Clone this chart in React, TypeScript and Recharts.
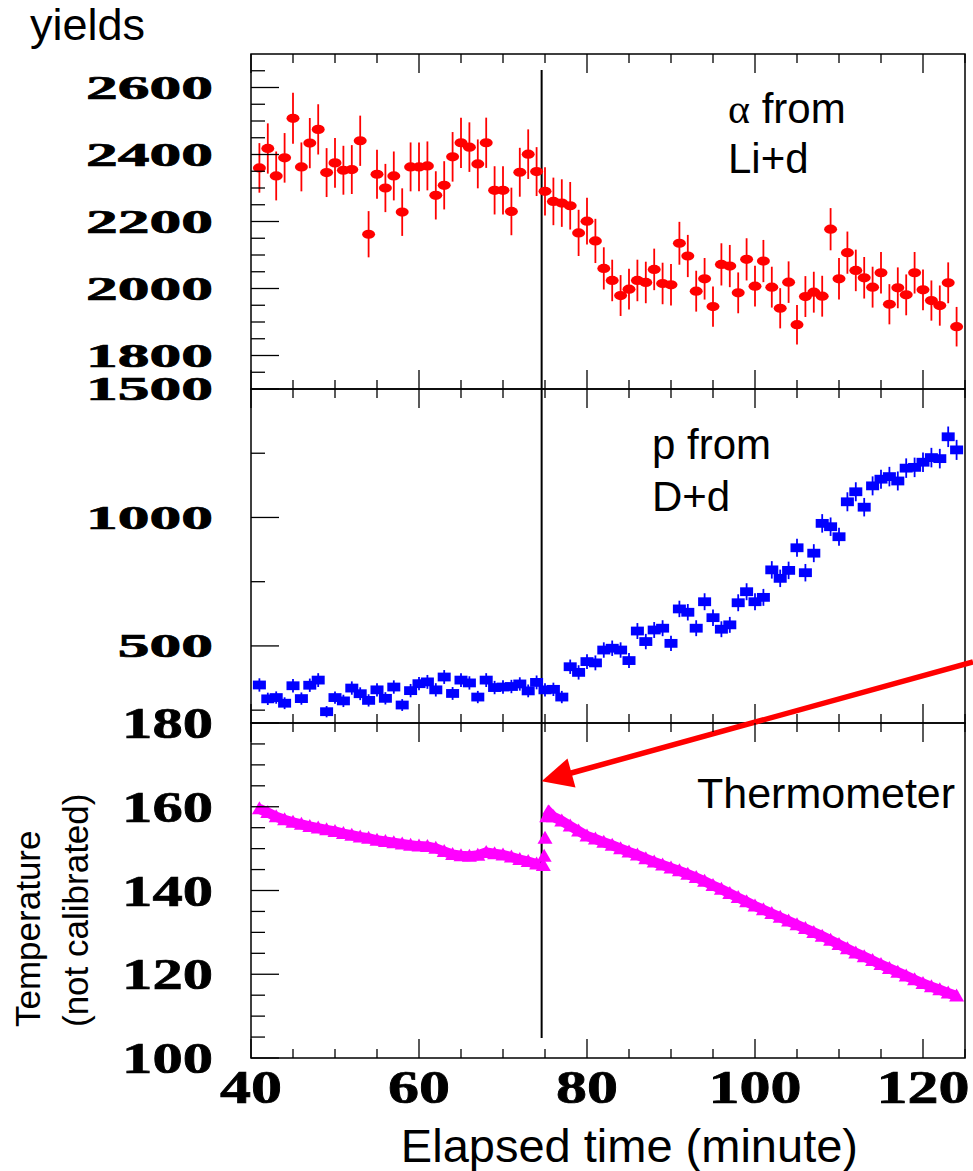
import React from "react";
import {
  ComposedChart,
  Scatter,
  Line,
  XAxis,
  YAxis,
  ErrorBar,
  ReferenceLine,
  ReferenceArea,
} from "recharts";

// ---------- data ----------
// elapsed time grid (minutes) for the yield measurements
const MINUTES = [
  41, 42, 43, 44, 45, 46, 47, 48, 49, 50,
  51, 52, 53, 54, 55, 56, 57, 58, 59, 60,
  61, 62, 63, 64, 65, 66, 67, 68, 69, 70,
  71, 72, 73, 74, 75, 76, 77, 78, 79, 80,
  81, 82, 83, 84, 85, 86, 87, 88, 89, 90,
  91, 92, 93, 94, 95, 96, 97, 98, 99, 100,
  101, 102, 103, 104, 105, 106, 107, 108, 109, 110,
  111, 112, 113, 114, 115, 116, 117, 118, 119, 120,
  121, 122, 123, 124,
];

// alpha yield from Li+d
const ALPHA_YIELD = [
  2360, 2418, 2336, 2390, 2508, 2363, 2434, 2475, 2346, 2375,
  2353, 2355, 2441, 2162, 2341, 2300, 2336, 2228, 2363, 2363,
  2366, 2278, 2308, 2393, 2435, 2422, 2372, 2435, 2293, 2293,
  2230, 2347, 2401, 2349, 2290, 2260, 2255, 2247, 2166, 2201,
  2142, 2060, 2024, 1979, 1998, 2024, 2018, 2057, 2015, 2011,
  2135, 2097, 1992, 2029, 1946, 2072, 2067, 1987, 2087, 2007,
  2082, 2004, 1941, 2019, 1892, 1976, 1989, 1977, 2177, 2029,
  2107, 2054, 2032, 2004, 2047, 1953, 2002, 1981, 2047, 1996,
  1964, 1949, 2017, 1886,
];
const ALPHA_ERR = [
  74, 75, 73, 74, 76, 73, 75, 75, 73, 74,
  73, 73, 75, 69, 73, 72, 73, 71, 73, 73,
  73, 72, 72, 74, 75, 74, 73, 75, 72, 72,
  71, 73, 74, 73, 72, 71, 71, 71, 69, 70,
  66, 63, 62, 61, 61, 62, 62, 62, 62, 62,
  64, 63, 61, 62, 60, 63, 63, 61, 63, 61,
  63, 61, 60, 62, 59, 61, 61, 61, 63, 62,
  63, 62, 62, 61, 62, 60, 61, 61, 62, 61,
  60, 60, 61, 59,
];

// proton yield from D+d
const PROTON_YIELD = [
  348, 294, 299, 277, 345, 295, 347, 367, 244, 299,
  286, 336, 314, 288, 329, 296, 340, 270, 326, 353,
  360, 329, 379, 315, 367, 356, 301, 367, 338, 340,
  342, 352, 325, 358, 329, 331, 301, 419, 397, 439,
  434, 484, 491, 484, 443, 558, 517, 562, 569, 510,
  644, 631, 569, 672, 610, 565, 582, 668, 711, 672,
  689, 796, 763, 794, 882, 785, 861, 977, 964, 925,
  1061, 1100, 1040, 1123, 1149, 1159, 1142, 1192, 1195, 1215,
  1233, 1229, 1314, 1263,
];
const PROTON_ERR = [
  26, 24, 24, 23, 26, 24, 26, 27, 22, 24,
  24, 26, 25, 24, 26, 24, 26, 23, 26, 26,
  27, 26, 27, 25, 27, 26, 24, 27, 26, 26,
  26, 26, 25, 27, 26, 26, 24, 28, 28, 29,
  29, 30, 30, 30, 29, 31, 30, 31, 31, 30,
  32, 32, 31, 33, 32, 31, 31, 33, 33, 33,
  33, 34, 34, 34, 35, 34, 35, 36, 36, 35,
  37, 37, 36, 37, 37, 38, 37, 38, 38, 38,
  38, 38, 40, 39,
];

// thermometer reading: before the step, the step itself, and after
const TEMP_TIMES_BEFORE = [
  41, 42, 43, 44, 45, 46, 47, 48, 49, 50,
  51, 52, 53, 54, 55, 56, 57, 58, 59, 60,
  61, 62, 63, 64, 65, 66, 67, 68, 69, 70,
  71, 72, 73, 74, 74.8,
];
const TEMP_BEFORE = [
  159.5, 158.6, 157.6, 156.9, 156.3, 155.8, 155.3, 154.9, 154.5, 154.1,
  153.6, 153.2, 152.8, 152.5, 152.0, 151.7, 151.4, 151.1, 150.8, 150.6,
  150.5, 150.1, 149.3, 148.6, 148.3, 148.2, 148.4, 149.1, 148.8, 148.5,
  148.0, 147.4, 146.9, 146.3, 146.0,
];
const TEMP_TIMES_STEP = [74.9, 75.0];
const TEMP_STEP = [148.2, 152.5];
const TEMP_TIMES_AFTER = [
  75.2, 75.5, 76, 77, 78, 79, 80,
  81, 82, 83, 84, 85, 86, 87, 88, 89, 90,
  91, 92, 93, 94, 95, 96, 97, 98, 99, 100,
  101, 102, 103, 104, 105, 106, 107, 108, 109, 110,
  111, 112, 113, 114, 115, 116, 117, 118, 119, 120,
  121, 122, 123, 124,
];
const TEMP_AFTER = [
  157.6, 158.6, 157.6, 156.6, 155.4, 154.2, 153.0,
  152.3, 151.5, 150.8, 150.0, 149.2, 148.5, 147.6, 146.8, 146.1, 145.4,
  144.7, 143.9, 143.1, 142.2, 141.2, 140.3, 139.3, 138.3, 137.3, 136.3,
  135.4, 134.5, 133.6, 132.7, 131.8, 130.9, 130.0, 129.1, 128.1, 127.1,
  126.1, 125.1, 124.2, 123.3, 122.3, 121.4, 120.5, 119.6, 118.7, 117.8,
  117.0, 116.3, 115.5, 114.8,
];

// time of the step seen in the thermometer
const STEP_MINUTE = 74.6;

// ---------- axes ----------
const TIME_DOMAIN: [number, number] = [40, 125];
const TIME_TICKS = [
  40, 45, 50, 55, 60, 65, 70, 75, 80, 85, 90, 95, 100, 105, 110, 115, 120, 125,
];
const TIME_LABELS = [40, 60, 80, 100, 120];

const ALPHA_DOMAIN: [number, number] = [1700, 2700];
const ALPHA_TICKS = [
  1750, 1800, 1850, 1900, 1950, 2000, 2050, 2100, 2150, 2200,
  2250, 2300, 2350, 2400, 2450, 2500, 2550, 2600, 2650,
];
const ALPHA_LABELS = [1800, 2000, 2200, 2400, 2600];

const PROTON_DOMAIN: [number, number] = [200, 1500];
const PROTON_TICKS = [250, 500, 750, 1000, 1250, 1500];
const PROTON_LABELS = [500, 1000, 1500];

const TEMP_DOMAIN: [number, number] = [100, 180];
const TEMP_TICKS = [
  100, 105, 110, 115, 120, 125, 130, 135, 140, 145, 150, 155, 160, 165, 170, 175, 180,
];
const TEMP_LABELS = [100, 120, 140, 160, 180];

// ---------- layout ----------
const W = 973;
const H = 1171;
const PLOT_LEFT = 251;
const PLOT_RIGHT = 965;
const PANEL_EDGES = [54, 389, 723, 1058];
const X_AXIS_H = 1;

const RED = "#ff0000";
const BLUE = "#0000ff";
const MAGENTA = "#ff00ff";
const SERIF = "'Liberation Serif', 'Times New Roman', serif";
const SANS = "'Liberation Sans', Arial, Helvetica, sans-serif";

const alphaRows = MINUTES.map((t, i) => ({ t, v: ALPHA_YIELD[i], err: ALPHA_ERR[i] }));
const protonRows = MINUTES.map((t, i) => ({ t, v: PROTON_YIELD[i], err: PROTON_ERR[i] }));
const tempBeforeRows = TEMP_TIMES_BEFORE.map((t, i) => ({ t, v: TEMP_BEFORE[i] }));
const tempStepRows = TEMP_TIMES_STEP.map((t, i) => ({ t, v: TEMP_STEP[i] }));
const tempAfterRows = TEMP_TIMES_AFTER.map((t, i) => ({ t, v: TEMP_AFTER[i] }));

// wide bold numerals used on every axis
function Numeral({
  text,
  right,
  centerX,
  baseline,
  fontSize,
  digitW,
}: {
  text: string;
  right?: number;
  centerX?: number;
  baseline: number;
  fontSize: number;
  digitW: number;
}) {
  const len = text.length * digitW;
  const x0 = right !== undefined ? right - len : (centerX as number) - len / 2;
  return (
    <text
      x={x0}
      y={baseline}
      fontFamily={SERIF}
      fontWeight="bold"
      fontSize={fontSize}
      textLength={len}
      lengthAdjust="spacingAndGlyphs"
      fill="#000"
      stroke="#000"
      strokeWidth={0.7}
    >
      {text}
    </text>
  );
}

function makeTimeTick(panelH: number, showLabels: boolean) {
  return (props: any) => {
    const { x, y, payload } = props;
    const v = payload.value as number;
    const major = v % 20 === 0;
    const len = major ? 19 : 9;
    return (
      <g>
        <line x1={x} y1={y} x2={x} y2={y - len} stroke="#000" strokeWidth={1.3} />
        <line x1={x} y1={y - panelH} x2={x} y2={y - panelH + len} stroke="#000" strokeWidth={1.3} />
        {showLabels && TIME_LABELS.includes(v) && (
          <Numeral text={String(v)} centerX={x} baseline={y + 44.5} fontSize={46} digitW={31} />
        )}
      </g>
    );
  };
}

function makeValueTick(labels: number[], fontSize: number, digitW: number) {
  return (props: any) => {
    const { x, y, payload } = props;
    const v = payload.value as number;
    const major = labels.includes(v);
    const len = major ? 28 : 14;
    return (
      <g>
        <line x1={x} y1={y} x2={x + len} y2={y} stroke="#000" strokeWidth={1.3} />
        {major && (
          <Numeral
            text={String(v)}
            right={x - 38}
            baseline={y + fontSize * 0.335}
            fontSize={fontSize}
            digitW={digitW}
          />
        )}
      </g>
    );
  };
}

const ellipseDot = (p: any) => (
  <ellipse cx={p.cx} cy={p.cy} rx={6.5} ry={4.6} fill={RED} />
);
const squareDot = (p: any) => (
  <rect x={p.cx - 6.5} y={p.cy - 4.4} width={13} height={8.8} fill={BLUE} />
);
const triangleDot = (p: any) => (
  <path
    key={`tri-${p.index}-${p.cx}`}
    d={`M${p.cx},${p.cy - 7.5}L${p.cx + 7.5},${p.cy + 5.5}L${p.cx - 7.5},${p.cy + 5.5}Z`}
    fill={MAGENTA}
  />
);

function ArrowShape(p: any) {
  const { x1, y1, x2, y2 } = p;
  if ([x1, y1, x2, y2].some((n) => typeof n !== "number" || isNaN(n))) return null;
  const dx = x2 - x1;
  const dy = y2 - y1;
  const d = Math.hypot(dx, dy) || 1;
  const ux = dx / d;
  const uy = dy / d;
  const headLen = 31;
  const halfW = 15;
  const bx = x1 + ux * headLen;
  const by = y1 + uy * headLen;
  const px = -uy * halfW;
  const py = ux * halfW;
  return (
    <g>
      <line x1={bx - ux * 4} y1={by - uy * 4} x2={x2} y2={y2} stroke={RED} strokeWidth={5.5} />
      <path d={`M${x1},${y1}L${bx + px},${by + py}L${bx - px},${by - py}Z`} fill={RED} />
    </g>
  );
}

function Panel({
  index,
  domain,
  yTicks,
  yLabels,
  labelFont,
  digitW,
  showTimeLabels,
  children,
}: {
  index: number;
  domain: [number, number];
  yTicks: number[];
  yLabels: number[];
  labelFont: number;
  digitW: number;
  showTimeLabels: boolean;
  children: React.ReactNode;
}) {
  const top = PANEL_EDGES[index];
  const bottom = PANEL_EDGES[index + 1];
  return (
    <div style={{ position: "absolute", left: 0, top: 0 }}>
      <ComposedChart
        width={W}
        height={H}
        margin={{ top, right: W - PLOT_RIGHT, bottom: H - bottom - X_AXIS_H, left: 0 }}
      >
        <XAxis
          dataKey="t"
          type="number"
          domain={TIME_DOMAIN}
          ticks={TIME_TICKS}
          interval={0}
          height={X_AXIS_H}
          tickSize={0}
          tickMargin={0}
          axisLine={false}
          tickLine={false}
          allowDataOverflow
          tick={makeTimeTick(bottom - top, showTimeLabels)}
        />
        <YAxis
          type="number"
          domain={domain}
          ticks={yTicks}
          interval={0}
          width={PLOT_LEFT}
          tickSize={0}
          tickMargin={0}
          axisLine={false}
          tickLine={false}
          allowDataOverflow
          tick={makeValueTick(yLabels, labelFont, digitW)}
        />
        <ReferenceArea
          x1={TIME_DOMAIN[0]}
          x2={TIME_DOMAIN[1]}
          y1={domain[0]}
          y2={domain[1]}
          fill="none"
          stroke="#000"
          strokeWidth={1.5}
          ifOverflow="visible"
        />
        {children}
      </ComposedChart>
    </div>
  );
}

export default function App() {
  return (
    <div
      style={{
        position: "absolute",
        left: 0,
        top: 0,
        width: W,
        height: H,
        background: "#fff",
        overflow: "hidden",
      }}
    >
      {/* alpha from Li+d */}
      <Panel
        index={0}
        domain={ALPHA_DOMAIN}
        yTicks={ALPHA_TICKS}
        yLabels={ALPHA_LABELS}
        labelFont={33}
        digitW={31.75}
        showTimeLabels={false}
      >
        <Scatter data={alphaRows} dataKey="v" shape={ellipseDot} isAnimationActive={false}>
          <ErrorBar
            dataKey="err"
            direction="y"
            width={0}
            stroke={RED}
            strokeWidth={1.8}
            isAnimationActive={false}
          />
        </Scatter>
        <ReferenceLine
          segment={[
            { x: STEP_MINUTE, y: 2652 },
            { x: STEP_MINUTE, y: 1700 },
          ]}
          stroke="#000"
          strokeWidth={2}
          ifOverflow="visible"
        />
      </Panel>

      {/* p from D+d */}
      <Panel
        index={1}
        domain={PROTON_DOMAIN}
        yTicks={PROTON_TICKS}
        yLabels={PROTON_LABELS}
        labelFont={33}
        digitW={31.75}
        showTimeLabels={false}
      >
        <Scatter data={protonRows} dataKey="v" shape={squareDot} isAnimationActive={false}>
          <ErrorBar
            dataKey="err"
            direction="y"
            width={0}
            stroke={BLUE}
            strokeWidth={1.8}
            isAnimationActive={false}
          />
        </Scatter>
        <ReferenceLine x={STEP_MINUTE} stroke="#000" strokeWidth={2} ifOverflow="visible" />
      </Panel>

      {/* thermometer */}
      <Panel
        index={2}
        domain={TEMP_DOMAIN}
        yTicks={TEMP_TICKS}
        yLabels={TEMP_LABELS}
        labelFont={45}
        digitW={30.3}
        showTimeLabels={true}
      >
        <Line
          data={tempBeforeRows}
          dataKey="v"
          type="linear"
          stroke={MAGENTA}
          strokeWidth={10}
          dot={triangleDot}
          activeDot={false}
          isAnimationActive={false}
        />
        <Line
          data={tempAfterRows}
          dataKey="v"
          type="linear"
          stroke={MAGENTA}
          strokeWidth={10}
          dot={triangleDot}
          activeDot={false}
          isAnimationActive={false}
        />
        <Scatter data={tempStepRows} dataKey="v" shape={triangleDot} isAnimationActive={false} />
        <ReferenceLine
          segment={[
            { x: STEP_MINUTE, y: 180 },
            { x: STEP_MINUTE, y: 104.8 },
          ]}
          stroke="#000"
          strokeWidth={2}
          ifOverflow="visible"
        />
        <ReferenceLine
          segment={[
            { x: STEP_MINUTE, y: 166.1 },
            { x: 125.95, y: 194.6 },
          ]}
          ifOverflow="visible"
          shape={(p: any) => <ArrowShape {...p} />}
        />
      </Panel>

      {/* titles and panel captions */}
      <svg
        width={W}
        height={H}
        style={{ position: "absolute", left: 0, top: 0, pointerEvents: "none" }}
      >
        <text x={30} y={40} fontFamily={SANS} fontSize={45} fill="#000">
          yields
        </text>
        <text x={728} y={123} fontFamily={SANS} fontSize={42} fill="#000">
          <tspan fontFamily={SERIF}>α</tspan> from
        </text>
        <text x={728} y={173} fontFamily={SANS} fontSize={42} fill="#000">
          Li+d
        </text>
        <text x={652} y={459} fontFamily={SANS} fontSize={42} fill="#000">
          p from
        </text>
        <text x={652} y={511} fontFamily={SANS} fontSize={42} fill="#000">
          D+d
        </text>
        <text x={697} y={808} fontFamily={SANS} fontSize={43} fill="#000">
          Thermometer
        </text>
        <text
          x={40}
          y={1027}
          transform="rotate(-90 40 1027)"
          fontFamily={SANS}
          fontSize={35}
          fill="#000"
        >
          Temperature
        </text>
        <text
          x={87.5}
          y={1027}
          transform="rotate(-90 87.5 1027)"
          fontFamily={SANS}
          fontSize={35}
          fill="#000"
        >
          (not calibrated)
        </text>
        <text
          x={858}
          y={1162}
          textAnchor="end"
          fontFamily={SANS}
          fontSize={47}
          fill="#000"
        >
          Elapsed time (minute)
        </text>
      </svg>
    </div>
  );
}
